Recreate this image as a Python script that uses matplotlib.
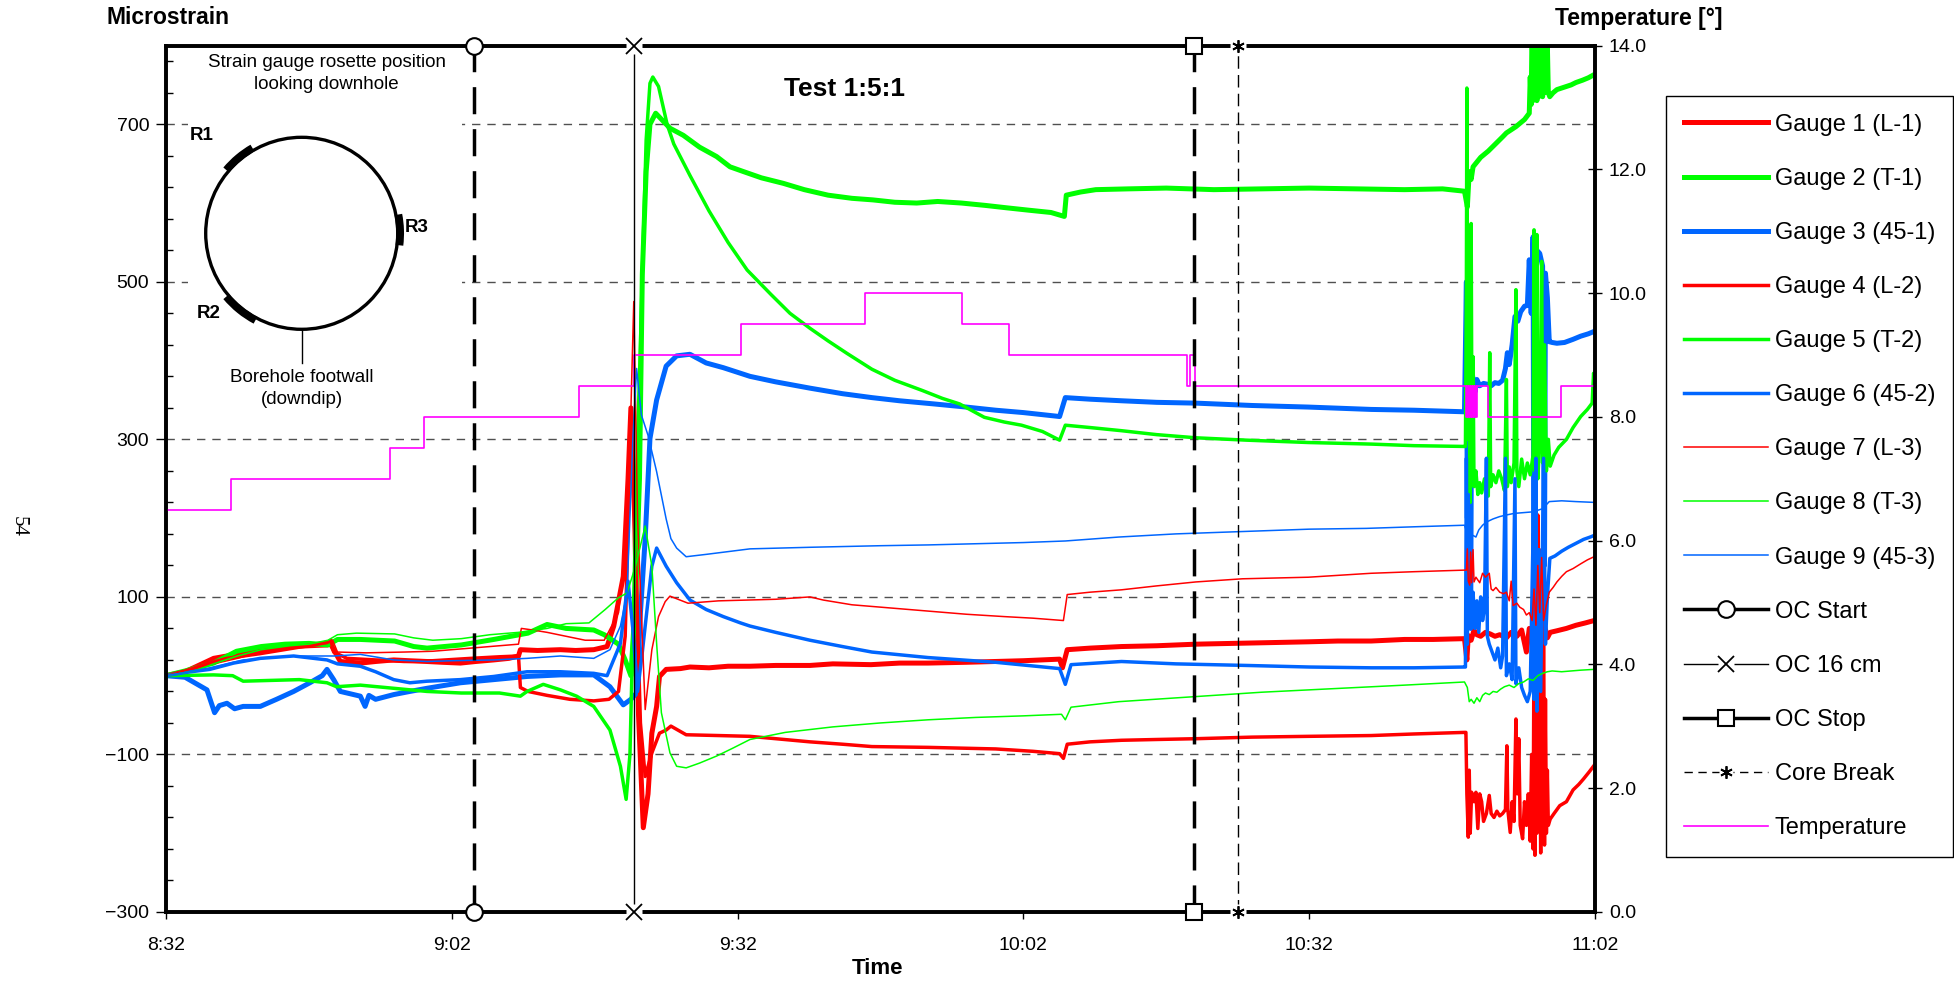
import numpy as np
import matplotlib
matplotlib.use('Agg')
import matplotlib.pyplot as plt
from matplotlib.lines import Line2D
from matplotlib.patches import Circle, Arc
from matplotlib.legend_handler import HandlerTuple
from matplotlib.ticker import FixedLocator

plt.rcParams['font.family'] = ['Liberation Sans', 'DejaVu Sans']

W, H = 1954, 985

# time in minutes after 8:32, strain in microstrain
time_ticks = [0, 30, 60, 90, 120, 150]
time_labels = ['8:32', '9:02', '9:32', '10:02', '10:32', '11:02']
strain_ticks = [-300, -100, 100, 300, 500, 700]
temp_ticks = [0, 2, 4, 6, 8, 10, 12, 14]

event_times = [32.3, 49.15, 107.9, 112.5]
event_names = ['OC Start', 'OC 16 cm', 'OC Stop', 'Core Break']

gauge1 = [(0, 0), (2, 5), (4.3, 18), (5, 22), (6.4, 25), (8, 28), (9.9, 31), (11.5, 34), (13.4, 37), (15, 38),
          (16.9, 39), (17.3, 40), (17.6, 33), (18.3, 18), (20.4, 16), (22, 18), (23.9, 20), (25.5, 19), (27.4, 18),
          (29, 17), (30.9, 16), (32.5, 18), (34.4, 20), (36, 22), (37, 25), (37.2, 33), (39, 32), (41.4, 33),
          (43, 32), (44.9, 33), (46.3, 37), (47, 63), (48, 126), (48.5, 250), (48.8, 340), (49.2, 200),
          (49.6, -50), (50.1, -193), (50.6, -150), (51.0, -73), (51.5, -39), (51.8, -1), (52.5, 8), (54, 9),
          (55, 11), (57, 10), (59, 12), (61.3, 12), (64, 13), (67.6, 13), (70, 15), (74, 14), (77, 16), (80, 16),
          (84, 17), (87, 18), (90, 19), (93.8, 21), (94.1, 10), (94.6, 33), (97, 35), (100.3, 37), (104, 38),
          (108.1, 40), (112, 41), (116, 42), (119.9, 43), (123, 44), (126.5, 44), (130, 46), (133, 46),
          (136.3, 47), (136.55, 20), (136.7, 51), (137.0, 45), (137.3, 58), (137.6, 52), (138.0, 50), (138.5, 55),
          (139.0, 53), (139.5, 50), (140.0, 52), (140.7, 48), (141.2, 55), (141.8, 50), (142.3, 58), (142.8, 30),
          (143.1, 60), (143.5, 40), (143.9, -20), (144.1, 70), (144.4, 30), (144.7, 64), (145.0, 48),
          (145.3, 55), (146, 57), (147, 60), (148, 64), (149, 67), (149.9, 70)]

gauge2 = [(0, 0), (2, 6), (5, 16), (7.4, 31), (10, 37), (12.5, 40), (15, 41), (17, 39), (18, 46), (20.4, 46),
          (24, 44), (26, 37), (27.4, 35), (31, 39), (34.4, 46), (38, 54), (40, 65), (42, 60), (44.9, 58), (46, 52),
          (47.5, 40), (48.2, 20), (48.8, 0), (49.3, 100), (49.7, 250), (50.0, 510), (50.4, 640), (50.8, 700),
          (51.4, 714), (52.9, 695), (54.3, 686), (56, 671), (57.8, 659), (59.2, 646), (60.6, 640), (62.5, 632),
          (64.8, 625), (67, 617), (69.5, 610), (72, 606), (74.2, 604), (76.5, 601), (78.8, 600), (81, 602),
          (83.5, 600), (86, 597), (88.2, 594), (90.5, 591), (92.9, 588), (94.3, 583), (94.5, 610), (96, 614),
          (97.6, 617), (101, 618), (105, 619), (110, 617), (115, 618), (120, 619), (125, 618), (130, 617),
          (134, 618), (136.3, 615), (136.6, 595), (136.8, 640), (137.0, 630), (137.2, 646), (137.6, 652),
          (138.0, 658), (138.3, 661), (138.8, 666), (139.3, 672), (139.8, 678), (140.3, 684), (140.7, 689),
          (141.2, 693), (141.7, 697), (142.1, 701), (142.6, 706), (143.1, 714), (143.2, 760), (143.3, 725),
          (143.4, 830), (143.5, 730), (143.6, 830), (143.7, 735), (143.8, 830), (143.9, 730), (144.0, 830),
          (144.1, 735), (144.2, 830), (144.3, 740), (144.4, 830), (144.5, 735), (144.6, 830), (144.7, 740),
          (144.8, 820), (144.9, 745), (145.0, 800), (145.1, 740), (145.25, 735), (145.6, 740), (146.0, 744),
          (146.5, 746), (147.0, 748), (147.5, 750), (148.0, 753), (148.7, 756), (149.3, 759), (149.9, 763)]

gauge3 = [(0, 0), (2, -2), (4.3, -18), (5.1, -47), (5.6, -38), (6.4, -35), (7.2, -42), (8.1, -39), (9.9, -39),
          (11.6, -30), (13.4, -20), (15.1, -9), (16.4, 0), (16.9, 8), (17.6, -5), (18.3, -20), (20.4, -26),
          (20.9, -39), (21.3, -25), (22, -30), (23.9, -24), (25.6, -20), (27.4, -16), (30.9, -9), (34.4, -5),
          (37.9, -1), (41.4, 1), (44.9, 1), (46.6, -14), (48, -37), (48.8, -30), (49.4, -22), (49.8, 80),
          (50.3, 174), (50.8, 301), (51.5, 350), (52.5, 393), (53.6, 406), (55, 408), (56.7, 397), (58.5, 391),
          (61.3, 380), (64, 373), (67.6, 365), (71, 358), (74.1, 353), (77, 349), (80.6, 345), (84, 341),
          (87.1, 337), (90, 334), (93.8, 329), (94.4, 353), (97, 351), (100.3, 349), (104, 347), (108.1, 346),
          (114, 343), (119.9, 341), (126.5, 338), (131, 337), (136.3, 335), (136.5, 500), (136.6, 200),
          (136.7, 420), (136.8, 380), (136.95, 60), (137.05, 390), (137.2, 376), (137.4, 360), (137.6, 376),
          (137.9, 368), (138.3, 371), (138.7, 370), (139.1, 368), (139.5, 372), (139.9, 371), (140.3, 375),
          (140.6, 390), (140.8, 410), (141.0, 395), (141.3, 420), (141.6, 456), (141.9, 450), (142.2, 462),
          (142.6, 469), (142.9, 470), (143.1, 528), (143.3, 460), (143.5, 557), (143.6, 60), (143.7, 550),
          (143.9, 540), (144.2, 536), (144.5, 520), (144.7, 140), (144.8, 511), (145.0, 480), (145.2, 424),
          (145.5, 423), (146.0, 422), (146.8, 423), (147.7, 427), (148.5, 431), (149.3, 434), (149.9, 437)]

gauge4 = [(0, 0), (2, 6), (4.3, 15), (6.4, 22), (9.9, 28), (13.4, 35), (16.9, 42), (17.3, 45), (17.6, 30),
          (19, 22), (22, 20), (25, 18), (28, 19), (32, 22), (35, 24), (37, 25), (37.2, -15), (38, -20), (40, -25),
          (42.4, -30), (44.9, -32), (46.5, -30), (47.5, -20), (48.2, 50), (48.8, 330), (49.3, 150), (49.8, -60),
          (50.3, -128), (51.0, -98), (51.8, -73), (52.5, -69), (53.0, -64), (54.6, -75), (58, -76), (61.3, -77),
          (64, -80), (67.6, -84), (71, -87), (74.1, -90), (80, -91), (87.1, -93), (91, -96), (93.8, -99),
          (94.2, -105), (94.6, -87), (97, -84), (100.3, -82), (104, -81), (108.1, -80), (114, -78), (119.9, -77),
          (126.5, -76), (131, -74), (136.3, -72), (136.45, -72), (136.55, -150), (136.7, -205), (136.8, -120),
          (136.9, -200), (137.05, -148), (137.3, -160), (137.5, -148), (137.7, -194), (137.9, -150),
          (138.1, -160), (138.3, -185), (138.6, -175), (138.9, -152), (139.1, -175), (139.4, -180),
          (139.7, -172), (140.0, -178), (140.3, -175), (140.6, -170), (140.75, -89), (140.85, -170),
          (141.1, -199), (141.3, -160), (141.5, -185), (141.7, -55), (141.85, -150), (142.0, -80),
          (142.15, -190), (142.4, -207), (142.6, -160), (142.8, -190), (143.0, -150), (143.2, -210),
          (143.35, -100), (143.5, -220), (143.6, 50), (143.7, -228), (143.8, 120), (143.9, -200), (144.0, 204),
          (144.1, -180), (144.2, -60), (144.3, -225), (144.4, 160), (144.5, -210), (144.6, 90), (144.7, -215),
          (144.8, -30), (144.9, -200), (145.0, -120), (145.1, -190), (145.3, -182), (145.7, -175),
          (146.3, -165), (147.0, -160), (147.7, -145), (148.3, -138), (148.8, -131), (149.4, -122),
          (149.9, -114)]

gauge5 = [(0, 0), (5, 1), (7, 0), (8.1, -7), (11, -6), (14, -5), (16.9, -9), (17.9, -14), (20.4, -12),
          (23.9, -16), (27.4, -20), (31, -22), (35, -22), (37.2, -26), (37.9, -20), (39.6, -11), (41.4, -18),
          (43.1, -26), (44.9, -39), (46.6, -69), (47.7, -115), (48.3, -157), (48.7, -100), (49.1, 100),
          (49.5, 300), (49.8, 420), (50.0, 510), (50.4, 680), (50.8, 752), (51.1, 760), (51.7, 748), (52.6, 700),
          (53.3, 675), (55, 635), (57, 590), (59, 550), (61, 515), (63.5, 484), (65.5, 460), (67.6, 441),
          (69.5, 425), (71.5, 409), (74.1, 389), (76.5, 375), (79.4, 362), (81.5, 352), (83.3, 345), (85.9, 328),
          (88, 322), (89.8, 318), (92, 310), (93.8, 299), (94.4, 318), (97, 315), (100.3, 311), (104, 306),
          (108.1, 302), (113.4, 299), (119.9, 296), (126.5, 294), (131, 292), (136.3, 291), (136.4, 291),
          (136.5, 500), (136.55, 746), (136.6, 400), (136.7, 300), (136.8, 330), (136.9, 220), (137.0, 574),
          (137.1, 250), (137.2, 405), (137.3, 240), (137.5, 260), (137.7, 230), (137.9, 245), (138.1, 232),
          (138.4, 250), (138.6, 235), (138.8, 228), (138.95, 410), (139.05, 240), (139.3, 255), (139.6, 245),
          (139.9, 260), (140.2, 250), (140.5, 235), (140.7, 376), (140.8, 240), (141.0, 265), (141.2, 245),
          (141.5, 270), (141.7, 490), (141.8, 260), (142.0, 240), (142.3, 275), (142.6, 250), (142.9, 270),
          (143.2, 255), (143.5, 280), (143.6, 566), (143.7, 260), (143.9, 560), (144.0, 250), (144.2, 300),
          (144.4, 526), (144.5, 270), (144.7, 420), (144.9, 260), (145.1, 300), (145.3, 266), (145.7, 280),
          (146.2, 290), (147.0, 300), (147.7, 315), (148.5, 329), (149.2, 338), (149.7, 346), (149.85, 384),
          (149.9, 380)]

gauge6 = [(0, 0), (2, 4), (4.6, 8), (7.1, 16), (9.9, 22), (13.4, 25), (16.9, 20), (18, 15), (20.4, 12), (22, 5),
          (23.9, -5), (25.6, -9), (27.4, -7), (30.9, -5), (34.4, -1), (37.9, 5), (41.4, 5), (44.9, 3), (46.3, 0),
          (47.7, 41), (48.5, 120), (49.0, 60), (49.5, -20), (50.0, 30), (50.3, 63), (51.0, 139), (51.5, 162),
          (52.5, 139), (53.6, 118), (55, 96), (56.7, 84), (58.5, 75), (60.3, 67), (61.3, 63), (64, 55), (67.6, 45),
          (71, 37), (74.1, 30), (80, 23), (87.1, 17), (93.8, 9), (94.4, -11), (95, 14), (100.3, 18), (106, 15),
          (113.4, 13), (120, 11), (126.5, 10), (131, 10), (136.3, 11), (136.4, 11), (136.5, 276), (136.6, 40),
          (136.7, 230), (136.8, 60), (136.9, 190), (137.0, 80), (137.2, 106), (137.4, 60), (137.6, 95),
          (137.8, 55), (138.0, 100), (138.2, 70), (138.4, 85), (138.6, 276), (138.7, 50), (138.9, 40),
          (139.2, 30), (139.5, 20), (139.8, 35), (140.1, 10), (140.3, 25), (140.6, 276), (140.7, 0), (141.0, 15),
          (141.3, -5), (141.6, 250), (141.7, -10), (142.0, 10), (142.3, -15), (142.6, -25), (142.9, -33),
          (143.2, -20), (143.5, 180), (143.6, -30), (143.8, 276), (143.9, -45), (144.1, 160), (144.3, -20),
          (144.6, 276), (144.8, 40), (145.0, 100), (145.26, 149), (145.8, 152), (146.5, 158), (147.2, 163),
          (148.0, 168), (148.8, 173), (149.5, 176), (149.9, 178)]

gauge7 = [(0, 0), (2.5, 8), (5, 15), (7.5, 22), (10, 30), (12.5, 36), (15, 40), (17.5, 45), (18, 30), (21, 29),
          (25, 30), (28, 31), (32, 35), (35, 38), (37, 40), (37.3, 60), (38.5, 58), (40, 55), (42, 50), (44, 45),
          (46, 45), (47.5, 80), (48.5, 200), (49.1, 475), (49.5, 200), (50.3, -43), (51, 33), (51.7, 75),
          (52.4, 94), (52.9, 101), (54.8, 92), (58, 95), (61, 96), (64, 97), (67.6, 100), (69, 96), (72, 90),
          (76, 86), (80, 82), (84, 78), (88, 75), (91, 73), (94.2, 70), (94.6, 103), (97, 106), (100.3, 109),
          (104, 114), (108.1, 119), (113, 123), (119.9, 125), (126.5, 130), (131, 132), (136.3, 134),
          (136.5, 134), (136.6, 161), (136.7, 120), (136.85, 115), (136.95, 157), (137.05, 118), (137.2, 160),
          (137.3, 119), (137.5, 125), (137.9, 118), (138.2, 130), (138.5, 125), (138.9, 130), (139.1, 110),
          (139.3, 108), (139.6, 112), (140.0, 106), (140.4, 104), (140.7, 106), (141.0, 95), (141.2, 120),
          (141.4, 89), (141.8, 92), (142.1, 87), (142.5, 84), (142.8, 77), (143.1, 80), (143.4, 70), (143.6, 110),
          (143.8, 64), (144.0, 140), (144.2, 80), (144.4, 150), (144.6, 70), (144.9, 90), (145.2, 106),
          (145.6, 112), (146.0, 119), (146.5, 126), (147.0, 132), (147.7, 136), (148.5, 142), (149.2, 147),
          (149.9, 151)]

gauge8 = [(0, 0), (3, 6), (5, 15), (7.5, 25), (10, 33), (13, 38), (15, 40), (17, 45), (18, 52), (20, 54),
          (24, 53), (26, 48), (28, 45), (31, 47), (34, 52), (37, 55), (40, 60), (42, 66), (44.4, 67), (46.1, 84),
          (47.5, 99), (48.4, 105), (49.3, 140), (50.3, 190), (51.0, 139), (51.5, 41), (52.0, -47), (52.9, -98),
          (53.6, -115), (54.6, -117), (56, -111), (57.8, -102), (59.5, -92), (61.3, -81), (65, -72), (70, -65),
          (75, -60), (80, -56), (85, -53), (90, -51), (94, -49), (94.4, -56), (95, -40), (100, -33), (105, -29),
          (110, -25), (115, -21), (120, -18), (125, -15), (130, -12), (136.3, -8), (136.6, -15), (136.8, -33),
          (137.0, -30), (137.3, -35), (137.6, -28), (137.9, -33), (138.2, -25), (138.5, -22), (138.9, -24),
          (139.3, -20), (139.7, -21), (140.1, -17), (140.5, -14), (141.0, -12), (141.5, -15), (142.0, -10),
          (142.5, -8), (143.0, -4), (143.5, -6), (144.0, 0), (144.5, 3), (145.0, 5), (145.5, 6), (146.5, 5),
          (147.5, 6), (148.5, 7), (149.9, 8)]

gauge9 = [(0, 0), (2, 4), (4.6, 10), (8.1, 20), (13.4, 25), (17.6, 25), (20.4, 27), (23.9, 20), (27.4, 18),
          (30, 19), (34.4, 20), (37.9, 22), (41.4, 25), (44.9, 22), (46.6, 33), (47.7, 63), (48.4, 105),
          (49.0, 300), (49.4, 390), (49.9, 331), (50.6, 305), (51.5, 259), (52.5, 199), (53.0, 174), (53.6, 162),
          (54.6, 151), (56.7, 154), (61.3, 161), (67.6, 163), (75, 165), (80, 166), (90, 169), (94.4, 171),
          (100, 176), (106, 180), (113, 183), (120, 186), (126, 187), (131, 189), (136.3, 191), (136.6, 180),
          (136.9, 174), (137.2, 178), (137.5, 176), (137.8, 185), (138.2, 191), (138.6, 195), (139.3, 199),
          (140.0, 202), (140.7, 204), (141.5, 206), (142.5, 207), (143.5, 208), (144.5, 212), (145.2, 221),
          (146.5, 222), (148, 221), (149.9, 220)]

temp_time = [0, 6.8, 23.5, 27.1, 43.4, 49.15, 60.4, 73.4, 83.6, 88.5, 107.2, 107.5, 108.0,
             136.5, 136.6, 136.7, 136.8, 136.9, 137.0, 137.1, 137.2, 137.3, 137.4, 137.5, 137.6,
             138.8, 146.4, 150]
temp_value = [6.5, 7.0, 7.5, 8.0, 8.5, 9.0, 9.5, 10.0, 9.5, 9.0, 8.5, 9.0, 8.5,
              8.0, 8.5, 8.0, 8.5, 8.0, 8.5, 8.0, 8.5, 8.0, 8.5, 8.0, 8.5,
              8.0, 8.5, 8.5]

gauges = [gauge1, gauge2, gauge3, gauge4, gauge5, gauge6, gauge7, gauge8, gauge9]
gauge_names = ['Gauge 1 (L-1)', 'Gauge 2 (T-1)', 'Gauge 3 (45-1)', 'Gauge 4 (L-2)', 'Gauge 5 (T-2)',
               'Gauge 6 (45-2)', 'Gauge 7 (L-3)', 'Gauge 8 (T-3)', 'Gauge 9 (45-3)']
RED, GREEN, BLUE, MAG = '#ff0000', '#00ff00', '#0066ff', '#ff00ff'
gauge_colors = [RED, GREEN, BLUE] * 3
gauge_widths = [3.6] * 3 + [2.5] * 3 + [1.1] * 3

fig = plt.figure(figsize=(W / 100, H / 100), dpi=100)
x0, x1, y0, y1 = 166, 1595, 45.5, 912
ax = fig.add_axes([x0 / W, 1 - y1 / H, (x1 - x0) / W, (y1 - y0) / H])
ax2 = ax.twinx()

for pts, c, lw in zip(gauges, gauge_colors, gauge_widths):
    a = np.array(pts)
    ax.plot(a[:, 0], a[:, 1], color=c, lw=lw, solid_joinstyle='round')

ax.set_xlim(0, 150)
ax.set_ylim(-300, 800)
ax.set_xticks(time_ticks)
ax.set_xticklabels(time_labels)
ax.set_yticks(strain_ticks)
ax.yaxis.set_minor_locator(FixedLocator(np.arange(-300, 801, 40)))
for v in strain_ticks[1:]:
    ax.axhline(v, color='#505050', lw=1.0, dashes=(6, 5), zorder=0.5)

ax.tick_params(axis='x', direction='out', length=5, width=1, pad=13, labelsize=14)
ax.tick_params(axis='y', which='major', direction='out', length=7, width=1, pad=5, labelsize=14)
ax.tick_params(axis='y', which='minor', direction='in', length=5, width=1)

ax2.step(temp_time, temp_value, where='post', color=MAG, lw=1.2)
ax2.set_ylim(0, 14)
ax2.set_yticks(temp_ticks)
ax2.set_yticklabels(['%.1f' % v for v in temp_ticks])
ax2.tick_params(axis='y', direction='inout', length=10, width=1, pad=5, labelsize=14)

for a in (ax, ax2):
    for sp in a.spines.values():
        sp.set_linewidth(2.6)

# event lines with end markers
t_start, t_16, t_stop, t_break = event_times
ax2.axvline(t_start, color='k', lw=2.5, dashes=(7.8, 4.3))
ax2.axvline(t_stop, color='k', lw=2.5, dashes=(7.8, 4.3))
ax2.axvline(t_16, color='k', lw=1.0)
ax2.axvline(t_break, color='k', lw=1.0, dashes=(9, 4.5))
for t, m, ms in [(t_start, 'o', 12), (t_stop, 's', 11)]:
    ax2.plot([t, t], [0, 14], ls='none', marker=m, ms=ms, mfc='white', mec='k', mew=1.5,
             clip_on=False, zorder=6)
for t, m in [(t_16, 'x'), (t_break, (6, 2, 0))]:
    ax2.plot([t, t], [0, 14], ls='none', marker='s', ms=11, mfc='white', mec='none',
             clip_on=False, zorder=6)
    ax2.plot([t, t], [0, 14], ls='none', marker=m, ms=11 if m == 'x' else 9, mec='k', mew=1.3,
             clip_on=False, zorder=7)

# text labels
fig.text(106 / W, 1 - 18 / H, 'Microstrain', fontsize=16.5, fontweight='bold', va='center', ha='left')
fig.text(1555 / W, 1 - 18 / H, 'Temperature [°]', fontsize=16.5, fontweight='bold', va='center', ha='left')
fig.text(878 / W, 1 - 969 / H, 'Time', fontsize=16, fontweight='bold', va='center', ha='center')
fig.text(845 / W, 1 - 89 / H, 'Test 1:5:1', fontsize=19, fontweight='bold', va='center', ha='center')
fig.text(18 / W, 1 - 526 / H, '54', fontsize=15, rotation=-90, va='center', ha='center',
         family=['Liberation Serif', 'DejaVu Serif'])

# rosette inset
ix0, ix1, iy0, iy1 = 188, 462, 50, 405
axi = fig.add_axes([ix0 / W, 1 - iy1 / H, (ix1 - ix0) / W, (iy1 - iy0) / H])
axi.set_xlim(ix0, ix1)
axi.set_ylim(iy1, iy0)
axi.set_facecolor('white')
axi.set_xticks([])
axi.set_yticks([])
for sp in axi.spines.values():
    sp.set_visible(False)
cx, cy, r = 301.7, 233.3, 96
axi.add_patch(Circle((cx, cy), r, fill=False, lw=2.4, ec='k'))
for th1, th2 in [(-140, -120), (-11, 7), (118, 140)]:
    axi.add_patch(Arc((cx, cy), 2 * r + 5, 2 * r + 5, theta1=th1, theta2=th2, lw=5.5, color='k'))
axi.plot([cx, cx], [cy + r, 363], color='k', lw=1.0)
axi.text(326.7, 63, 'Strain gauge rosette position', fontsize=13.5, ha='center', va='center')
axi.text(326.7, 85, 'looking downhole', fontsize=13.5, ha='center', va='center')
axi.text(201.7, 135, 'R1', fontsize=13.5, fontweight='bold', ha='center', va='center')
axi.text(416.7, 228, 'R3', fontsize=13.5, fontweight='bold', ha='center', va='center')
axi.text(209, 313, 'R2', fontsize=13.5, fontweight='bold', ha='center', va='center')
axi.text(cx, 377, 'Borehole footwall', fontsize=13.5, ha='center', va='center', clip_on=False)
axi.text(cx, 399, '(downdip)', fontsize=13.5, ha='center', va='center', clip_on=False)

# legend
handles = [Line2D([], [], color=c, lw=lw) for c, lw in zip(gauge_colors, gauge_widths)]
labels = list(gauge_names)
h_start = Line2D([], [], color='k', lw=2.5, marker='o', ms=12, mfc='white', mec='k', mew=1.5)
h_16 = (Line2D([], [], color='k', lw=1.0),
        Line2D([], [], ls='none', marker='s', ms=11, mfc='white', mec='none'),
        Line2D([], [], ls='none', marker='x', ms=11, mec='k', mew=1.3))
h_stop = Line2D([], [], color='k', lw=2.5, marker='s', ms=11, mfc='white', mec='k', mew=1.5)
h_break = (Line2D([], [], color='k', lw=1.0, dashes=(6, 4)),
           Line2D([], [], ls='none', marker='s', ms=10, mfc='white', mec='none'),
           Line2D([], [], ls='none', marker=(6, 2, 0), ms=9, mec='k', mew=1.3))
h_temp = Line2D([], [], color=MAG, lw=1.2)
handles += [h_start, h_16, h_stop, h_break, h_temp]
labels += event_names + ['Temperature']
leg = fig.legend(handles, labels, loc='upper left', bbox_to_anchor=(1666 / W, 1 - 96 / H),
                 bbox_transform=fig.transFigure, borderaxespad=0, fontsize=17, frameon=True,
                 fancybox=False, shadow=False, framealpha=1, edgecolor='k', handlelength=3.55,
                 handletextpad=0.3, labelspacing=1.36, borderpad=0.75, numpoints=1,
                 handler_map={tuple: HandlerTuple(ndivide=1, pad=0)})
leg.get_frame().set_linewidth(1.0)

fig.savefig('out.png', dpi=100)
